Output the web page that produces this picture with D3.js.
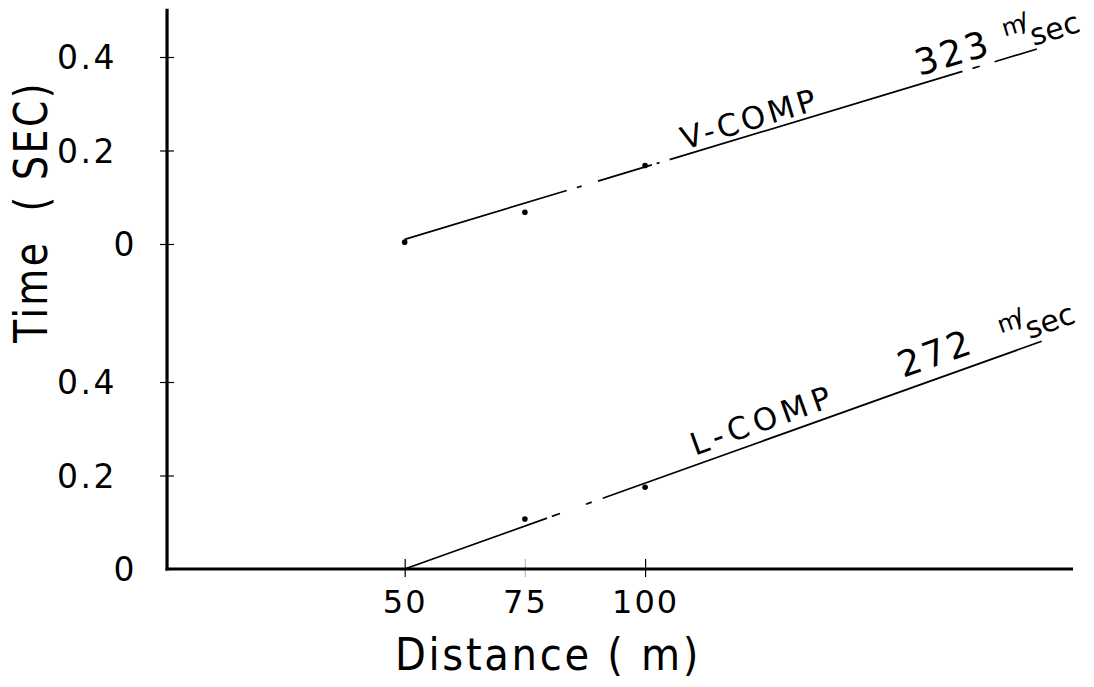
<!DOCTYPE html>
<html>
<head>
<meta charset="utf-8">
<script src="https://cdn.jsdelivr.net/npm/d3@7"></script>
<style>
  body { margin: 0; background: #fff; }
  text { font-family: "DejaVu Sans", sans-serif; fill: #000; white-space: pre; }
</style>
</head>
<body>
<svg id="chart" width="1094" height="687"></svg>
<script>
// Travel-time observations: distance (m) against arrival time (s)
const distanceTicks = [50, 75, 100];
const distanceTickLabels = ["50", "75", "100"];
const timeTicks = [0, 0.2, 0.4];
const timeTickLabels = ["0", "0.2", "0.4"];

const vDistances = [50, 75, 100];
const vTimes = [0.004, 0.068, 0.168];
const lDistances = [75, 100];
const lTimes = [0.107, 0.175];

// Fitted travel-time lines (velocity in m/sec)
const vVelocity = 323;
const lVelocity = 272;
const vIntercept = 0.01;   // time at 50 m
const lIntercept = 0;
const vFitRange = [50, 181.5];
const lFitRange = [50, 182.5];

// Stretches (m) where the drafted line was left open
const vBreaks = [[83.7, 85.8], [86.8, 90.2], [101.4, 102.4], [103.0, 105.1], [166.0, 168.1], [169.6, 172.7]];
const lBreaks = [[79.6, 80.6], [82.3, 87.7], [88.9, 91.2]];

const svg = d3.select("#chart");

const x = d3.scaleLinear().domain([0, 189]).range([164.3, 1073]);
const yTop = d3.scaleLinear().domain([0, 0.4]).range([244, 57]);
const yBot = d3.scaleLinear().domain([0, 0.4]).range([569, 382]);
const axisX = x(0.57);

// --- axes ---
svg.append("line")
  .attr("x1", axisX).attr("x2", axisX)
  .attr("y1", yTop(0.503)).attr("y2", yBot(0) + 1.5)
  .attr("stroke", "#000").attr("stroke-width", 3.2);
svg.append("line")
  .attr("x1", axisX - 1.5).attr("x2", x(189))
  .attr("y1", yBot(0)).attr("y2", yBot(0))
  .attr("stroke", "#000").attr("stroke-width", 3.2);

function yAxis(scale) {
  const g = svg.append("g").attr("transform", `translate(${axisX},0)`)
    .call(d3.axisLeft(scale).tickValues(timeTicks)
      .tickFormat((d, i) => timeTickLabels[i]).tickSize(6).tickPadding(44));
  g.select(".domain").remove();
  g.selectAll(".tick line").attr("x1", -7).attr("x2", 7).attr("stroke", "#000").attr("stroke-width", 1.2);
  g.selectAll(".tick text").attr("font-size", 33).attr("dy", "0.36em").attr("fill", "#000")
    .attr("letter-spacing", 2.5)
    .style("font-family", "DejaVu Sans");
  // the zero labels sit closer to the axis
  g.selectAll(".tick").filter(d => d === 0).select("text").attr("x", -30);
  return g;
}
yAxis(yTop);
const gBot = yAxis(yBot);
gBot.selectAll(".tick").filter(d => d === 0).select("line").remove();

const gx = svg.append("g").attr("transform", `translate(0,${yBot(0)})`)
  .call(d3.axisBottom(x).tickValues(distanceTicks)
    .tickFormat((d, i) => distanceTickLabels[i]).tickSize(8).tickPadding(13));
gx.select(".domain").remove();
gx.selectAll(".tick line").attr("y1", -10).attr("y2", 8).attr("stroke", "#000").attr("stroke-width", 1.2);
gx.selectAll(".tick").filter(d => d === 75).select("line").attr("stroke-opacity", 0.25);
gx.selectAll(".tick text").attr("font-size", 32).attr("dy", "0.71em").attr("fill", "#000")
  .attr("letter-spacing", 2)
  .style("font-family", "DejaVu Sans");

// axis titles
svg.append("text")
  .attr("x", 548).attr("y", 670)
  .attr("text-anchor", "middle")
  .attr("font-size", 45)
  .attr("letter-spacing", 3)
  .attr("textLength", 306).attr("lengthAdjust", "spacingAndGlyphs")
  .text("Distance ( m)");

svg.append("text")
  .attr("transform", "translate(47,212) rotate(-90)")
  .attr("text-anchor", "middle")
  .attr("font-size", 46)
  .attr("letter-spacing", 3)
  .attr("textLength", 262).attr("lengthAdjust", "spacingAndGlyphs")
  .text("Time  ( SEC)");

// --- fitted lines with open stretches ---
function fitLine(yScale, velocity, intercept, range, breaks) {
  const t = d => intercept + (d - range[0]) / velocity;
  const p0 = [x(range[0]), yScale(t(range[0]))];
  const p1 = [x(range[1]), yScale(t(range[1]))];
  const dx = p1[0] - p0[0], dy = p1[1] - p0[1];
  const len = Math.hypot(dx, dy);
  const k = len / dx; // path length per horizontal pixel
  const dash = [];
  let pos = p0[0];
  breaks.forEach(([a, b]) => {
    dash.push((x(a) - pos) * k, (x(b) - x(a)) * k);
    pos = x(b);
  });
  dash.push((p1[0] - pos) * k, len);
  svg.append("path")
    .attr("d", d3.line()([p0, p1]))
    .attr("fill", "none").attr("stroke", "#000").attr("stroke-width", 1.7)
    .attr("stroke-dasharray", dash.join(" "));
  return { t, angle: Math.atan2(dy, dx) * 180 / Math.PI };
}

const vFit = fitLine(yTop, vVelocity, vIntercept, vFitRange, vBreaks);
const lFit = fitLine(yBot, lVelocity, lIntercept, lFitRange, lBreaks);

// --- observed points ---
svg.append("g").selectAll("circle")
  .data(vDistances.map((d, i) => [d, vTimes[i]]))
  .join("circle")
  .attr("cx", d => x(d[0])).attr("cy", d => yTop(d[1])).attr("r", 2.8).attr("fill", "#000");
svg.append("g").selectAll("circle")
  .data(lDistances.map((d, i) => [d, lTimes[i]]))
  .join("circle")
  .attr("cx", d => x(d[0])).attr("cy", d => yBot(d[1])).attr("r", 2.8).attr("fill", "#000");

// --- labels set along the lines ---
function alongLine(yScale, fit, d) {
  return svg.append("g")
    .attr("transform", `translate(${x(d)},${yScale(fit.t(d))}) rotate(${fit.angle})`);
}

function annotate(yScale, fit, opts) {
  alongLine(yScale, fit, opts.nameAt)
    .append("text").attr("y", -opts.nameLift).attr("font-size", 31)
    .attr("letter-spacing", opts.nameSpacing)
    .text(opts.name);
  const gSpeed = alongLine(yScale, fit, opts.speedAt);
  gSpeed.append("text").attr("y", -opts.speedLift).attr("font-size", 36).attr("letter-spacing", 3)
    .text(opts.speed);
  // unit written as a small raised "m" over a slash, then "sec" set lower
  const u = 93 + opts.unitShift;
  const mY = -opts.speedLift - 13 + opts.mDrop;
  gSpeed.append("text").attr("x", u).attr("y", mY).attr("font-size", 24).text("m");
  gSpeed.append("text").attr("x", u + 18).attr("y", mY).attr("font-size", 26).text("/");
  gSpeed.append("text").attr("x", u + 25).attr("y", -opts.speedLift - 4 + opts.secDrop)
    .attr("font-size", 30).text("sec");
}

annotate(yTop, vFit, {
  name: "V-COMP", nameAt: 108.5, nameLift: 5, nameSpacing: 3.5,
  speed: String(vVelocity), speedAt: 157.5, speedLift: 8,
  unitShift: 0, mDrop: 0, secDrop: 8
});
annotate(yBot, lFit, {
  name: "L-COMP", nameAt: 111, nameLift: 9, nameSpacing: 5.5,
  speed: String(lVelocity), speedAt: 154.5, speedLift: 12,
  unitShift: 14, mDrop: 4, secDrop: 10
});
</script>
</body>
</html>
